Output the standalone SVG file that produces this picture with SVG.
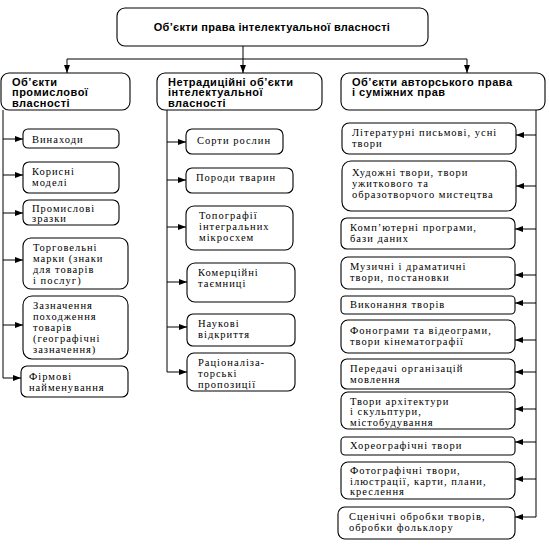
<svg xmlns="http://www.w3.org/2000/svg" width="549" height="546" viewBox="0 0 549 546">
<defs>
<marker id="ah" viewBox="0 0 8 6" refX="8" refY="3" markerWidth="8" markerHeight="6" markerUnits="userSpaceOnUse" orient="auto">
<path d="M0,0 L8,3 L0,6 Z" fill="#000"/>
</marker>
</defs>
<style>
rect{fill:#fff;stroke:#000;stroke-width:1.1}
.h{font-family:"Liberation Sans",Arial,sans-serif;font-weight:bold;font-size:11px;letter-spacing:0.5px;fill:#000}
.r{font-family:"Liberation Sans",Arial,sans-serif;font-weight:bold;font-size:11px;letter-spacing:0.3px;fill:#000}
.t{font-family:"Liberation Serif","Times New Roman",serif;font-size:10.5px;letter-spacing:1px;fill:#000}
.c{fill:none;stroke:#000;stroke-width:1}
.a{fill:none;stroke:#000;stroke-width:1;marker-end:url(#ah)}
</style>
<rect width="549" height="546" style="fill:#fff;stroke:none"/>
<g id="connectors">
<path class="c" d="M243,46 V59 M67,59 H467"/>
<path class="a" d="M67,59 V73"/>
<path class="a" d="M243,59 V73"/>
<path class="a" d="M467,59 V73"/>
<path class="c" d="M3,110 V378"/>
<path class="a" d="M3,139 H23"/>
<path class="a" d="M3,175 H23"/>
<path class="a" d="M3,213 H23"/>
<path class="a" d="M3,260 H23"/>
<path class="a" d="M3,325 H23"/>
<path class="a" d="M3,378 H21"/>
<path class="c" d="M167,110 V372"/>
<path class="a" d="M167,142 H186"/>
<path class="a" d="M167,180 H186"/>
<path class="a" d="M167,227 H186"/>
<path class="a" d="M167,282 H187"/>
<path class="a" d="M167,327 H187"/>
<path class="a" d="M167,372 H187"/>
<path class="c" d="M536,110 V517"/>
<path class="a" d="M536,135 H516"/>
<path class="a" d="M536,186 H516"/>
<path class="a" d="M536,229 H515"/>
<path class="a" d="M536,275 H515"/>
<path class="a" d="M536,303 H515"/>
<path class="a" d="M536,340 H515"/>
<path class="a" d="M536,372 H515"/>
<path class="a" d="M536,409 H515"/>
<path class="a" d="M536,442 H515"/>
<path class="a" d="M536,479 H515"/>
<path class="a" d="M536,517 H515"/>
</g>
<g id="root">
<rect x="117" y="8" width="311" height="38" rx="8"/>
<text class="r" x="272" y="31" text-anchor="middle">Об’єкти права інтелектуальної власності</text>
</g>
<g id="industrial">
<rect x="1" y="73" width="129" height="37" rx="8"/>
<text class="h" x="12" y="85.5">Об’єкти</text>
<text class="h" x="12" y="96">промислової</text>
<text class="h" x="12" y="106.5">власності</text>
</g>
<g id="nontraditional">
<rect x="157" y="73" width="165" height="37" rx="8"/>
<text class="h" x="168" y="85.5">Нетрадиційні об’єкти</text>
<text class="h" x="168" y="96">інтелектуальної</text>
<text class="h" x="168" y="106.5">власності</text>
</g>
<g id="copyright">
<rect x="341" y="73" width="204" height="37" rx="8"/>
<text class="h" x="352" y="85.5">Об’єкти авторського права</text>
<text class="h" x="352" y="96">і суміжних прав</text>
</g>
<g id="n-inventions"><rect x="23" y="129" width="96" height="19" rx="5"/><text class="t" x="32" y="142.5">Винаходи</text></g>
<g id="n-utility"><rect x="23" y="162" width="96" height="31" rx="6"/><text class="t" x="32" y="174.5">Корисні</text><text class="t" x="32" y="185.5">моделі</text></g>
<g id="n-designs"><rect x="23" y="200" width="96" height="25" rx="6"/><text class="t" x="32" y="211.5">Промислові</text><text class="t" x="32" y="222">зразки</text></g>
<g id="n-trademarks"><rect x="23" y="238" width="105" height="51" rx="8"/><text class="t" x="33" y="250.5">Торговельні</text><text class="t" x="33" y="261.5">марки (знаки</text><text class="t" x="33" y="272.5">для товарів</text><text class="t" x="33" y="283.5">і послуг)</text></g>
<g id="n-geo"><rect x="23" y="296" width="105" height="63" rx="9"/><text class="t" x="33" y="308.5">Зазначення</text><text class="t" x="33" y="319.5">походження</text><text class="t" x="33" y="330.5">товарів</text><text class="t" x="33" y="341.5">(географічні</text><text class="t" x="33" y="352.5">зазначення)</text></g>
<g id="n-tradenames"><rect x="21" y="366" width="107" height="31" rx="6"/><text class="t" x="29" y="379.5">Фірмові</text><text class="t" x="29" y="390.5">найменування</text></g>
<g id="n-plants"><rect x="186" y="129" width="97" height="25" rx="6"/><text class="t" x="197" y="143.5">Сорти рослин</text></g>
<g id="n-breeds"><rect x="186" y="168" width="107" height="25" rx="6"/><text class="t" x="196" y="180.5">Породи тварин</text></g>
<g id="n-topo"><rect x="186" y="206" width="107" height="44" rx="8"/><text class="t" x="199" y="219">Топографії</text><text class="t" x="199" y="230">інтегральних</text><text class="t" x="199" y="241">мікросхем</text></g>
<g id="n-secrets"><rect x="187" y="263" width="108" height="39" rx="8"/><text class="t" x="198" y="276">Комерційні</text><text class="t" x="198" y="287">таємниці</text></g>
<g id="n-discoveries"><rect x="187" y="314" width="108" height="32" rx="6"/><text class="t" x="198" y="327">Наукові</text><text class="t" x="198" y="338">відкриття</text></g>
<g id="n-rational"><rect x="187" y="353" width="108" height="38" rx="7"/><text class="t" x="198" y="366">Раціоналіза-</text><text class="t" x="198" y="377">торські</text><text class="t" x="198" y="388">пропозиції</text></g>
<g id="n-literary"><rect x="342" y="123" width="174" height="31" rx="7"/><text class="t" x="352" y="136">Літературні письмові, усні</text><text class="t" x="352" y="147">твори</text></g>
<g id="n-art"><rect x="342" y="161" width="174" height="50" rx="9"/><text class="t" x="352" y="175.5">Художні твори, твори</text><text class="t" x="352" y="186.5">ужиткового та</text><text class="t" x="352" y="197.5">образотворчого мистецтва</text></g>
<g id="n-software"><rect x="341" y="218" width="174" height="31" rx="6"/><text class="t" x="350" y="231">Комп’ютерні програми,</text><text class="t" x="350" y="242">бази даних</text></g>
<g id="n-music"><rect x="341" y="257" width="174" height="32" rx="7"/><text class="t" x="350" y="270">Музичні і драматичні</text><text class="t" x="350" y="281">твори, постановки</text></g>
<g id="n-performance"><rect x="341" y="296" width="174" height="18" rx="4"/><text class="t" x="350" y="307.5">Виконання творів</text></g>
<g id="n-phonograms"><rect x="341" y="320" width="174" height="33" rx="7"/><text class="t" x="350" y="334">Фонограми та відеограми,</text><text class="t" x="350" y="345">твори кінематографії</text></g>
<g id="n-broadcast"><rect x="341" y="359" width="174" height="30" rx="6"/><text class="t" x="350" y="371.5">Передачі організацій</text><text class="t" x="350" y="382.5">мовлення</text></g>
<g id="n-architecture"><rect x="341" y="392" width="174" height="37" rx="7"/><text class="t" x="350" y="404.5">Твори архітектури</text><text class="t" x="350" y="415">і скульптури,</text><text class="t" x="350" y="425.5">містобудування</text></g>
<g id="n-choreo"><rect x="341" y="437" width="174" height="18" rx="4"/><text class="t" x="350" y="448.5">Хореографічні твори</text></g>
<g id="n-photo"><rect x="341" y="462" width="174" height="37" rx="7"/><text class="t" x="350" y="474">Фотографічні твори,</text><text class="t" x="350" y="484.5">ілюстрації, карти, плани,</text><text class="t" x="350" y="495">креслення</text></g>
<g id="n-stage"><rect x="338" y="507" width="177" height="32" rx="7"/><text class="t" x="349" y="519.5">Сценічні обробки творів,</text><text class="t" x="349" y="530.5">обробки фольклору</text></g>
</svg>
